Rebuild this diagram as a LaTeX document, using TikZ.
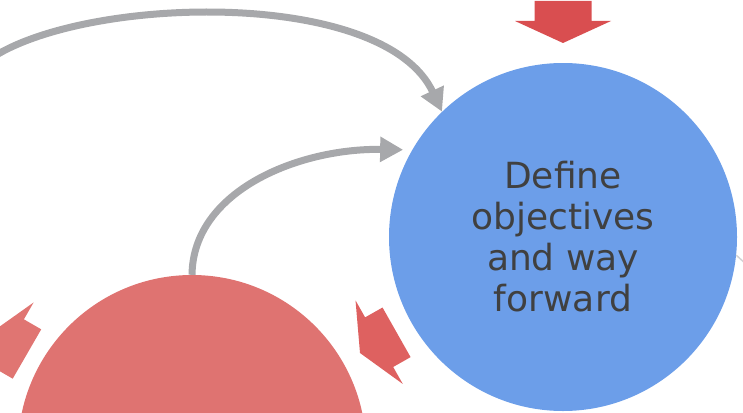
\documentclass[tikz,border=0pt]{standalone}
\usepackage{fontspec}
\setmainfont{DejaVu Sans}
\usepackage{tikz}
\usetikzlibrary{arrows.meta}
\definecolor{cycblue}{HTML}{6C9EE9}
\definecolor{cycred}{HTML}{DF7371}
\definecolor{arrdark}{HTML}{D94E50}
\definecolor{arrmid}{HTML}{DE6160}
\definecolor{arrlight}{HTML}{E07572}
\definecolor{flowgray}{HTML}{A7A8AB}
\definecolor{txtgray}{HTML}{404040}
\tikzset{
  stage/.style={circle,inner sep=0pt,minimum size=348pt,align=center,
    text=txtgray,font=\fontsize{36}{41}\selectfont},
  flow/.style={draw=flowgray,line width=7pt,-{Triangle[width=24pt,length=23pt]}},
  faint/.style={draw=flowgray!50,line width=1.5pt},
  redarr/.pic={
    \path[pic actions] (0,0) -- (48,22) -- (28.5,22) -- (28.5,42)
      -- (-28.5,42) -- (-28.5,22) -- (-48,22) -- cycle;
  }
}
\begin{document}
\begin{tikzpicture}[x=1pt,y=1pt]
    \useasboundingbox (0,0) rectangle (743,-412);
    \clip (0,0) rectangle (743,-412);

    % stages
    \node[stage,fill=cycblue] (obj) at (563,-237) {Define\\objectives\\and way\\forward};
    \node[stage,fill=cycred] (prev) at (192,-449) {};

    % block arrows round the stages
    \pic[fill=arrdark] at (563,-43) {redarr};
    \pic[fill=arrmid,rotate=-60.5] at (360,-353) {redarr};
    \pic[fill=arrlight,rotate=-120] at (-9.4,-333) {redarr};

    % connectors
    \coordinate (far) at (-2,-54);
    \coordinate (out) at (767,-283);
    \draw[flow] (far) .. controls (100,5) and (385,10) .. (obj.134);
    \draw[flow,shorten >=9pt] (prev.north) .. controls (193,-190) and (300,-148) .. (obj.150);
    \draw[faint] (obj.-6.6) -- (out);
\end{tikzpicture}
\end{document}
